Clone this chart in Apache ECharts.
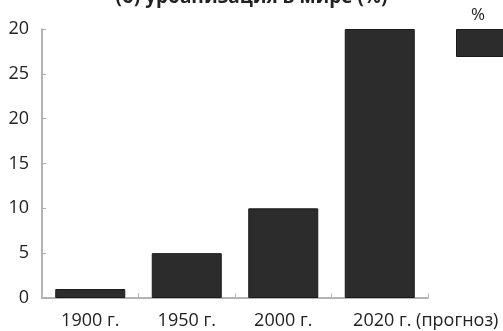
<!DOCTYPE html>
<html>
<head>
<meta charset="utf-8">
<script src="https://cdn.jsdelivr.net/npm/echarts@6/dist/echarts.min.js"></script>
<style>
html, body { margin: 0; padding: 0; background: #fff; }
#chart { width: 503px; height: 331px; }
</style>
</head>
<body>
<div id="chart"></div>
<script>
// Years shown on the horizontal axis
const categories = ['1900 г.', '1950 г.', '2000 г.', '2020 г. (прогноз)'];
// Share, percent
const values = [1, 5, 10, 30];
// Printed tick labels on the value axis, bottom to top
const yTickLabels = ['0', '5', '10', '15', '20', '25', '20'];
const seriesName = '%';
const titleText = '(б) урбанизация в мире (%)';

const chart = echarts.init(document.getElementById('chart'), null, { renderer: 'canvas' });
const font = '"Open Sans", "Noto Sans", sans-serif';

// The forecast label keeps its year under the bar and lets the note trail to the right
const xData = categories.map((c, i) => i === categories.length - 1
  ? { value: c, textStyle: { padding: [0, 0, 0, 92] } }
  : c);

chart.setOption({
  animation: false,
  title: {
    text: titleText,
    left: 'center',
    top: -17,
    textStyle: { fontFamily: font, fontSize: 19, fontWeight: 'bold', color: '#222' }
  },
  legend: {
    data: [seriesName],
    left: 451,
    top: 24,
    itemWidth: 60,
    itemHeight: 27,
    formatter: () => '',
    icon: 'rect',
    itemStyle: { color: '#2c2c2c', borderColor: '#1a1a1a', borderWidth: 1 }
  },
  graphic: [{
    type: 'text',
    left: 471,
    top: 7,
    style: { text: seriesName, fontFamily: font, fontSize: 17, fill: '#222' }
  }],
  grid: { left: 42, right: 75, top: 29, bottom: 33, containLabel: false },
  xAxis: {
    type: 'category',
    data: xData,
    axisLine: { lineStyle: { color: '#9a9a9a', width: 1.5 } },
    axisTick: { show: true, inside: true, length: 5, alignWithLabel: false, lineStyle: { color: '#bbb' } },
    axisLabel: { interval: 0, fontFamily: font, fontSize: 18, color: '#222', margin: 14 }
  },
  yAxis: {
    type: 'value',
    min: 0,
    max: 30,
    interval: 5,
    splitLine: { show: false },
    axisLine: { show: true, lineStyle: { color: '#9a9a9a', width: 1.5 } },
    axisTick: { show: true, inside: true, length: 4, lineStyle: { color: '#aaa' } },
    axisLabel: {
      fontFamily: font, fontSize: 18, color: '#222', margin: 13,
      formatter: (v) => yTickLabels[Math.round(v / 5)]
    }
  },
  series: [{
    name: seriesName,
    type: 'bar',
    data: values,
    barWidth: 70,
    itemStyle: { color: '#2c2c2c', borderColor: '#1a1a1a', borderWidth: 1 }
  }]
});
</script>
</body>
</html>
